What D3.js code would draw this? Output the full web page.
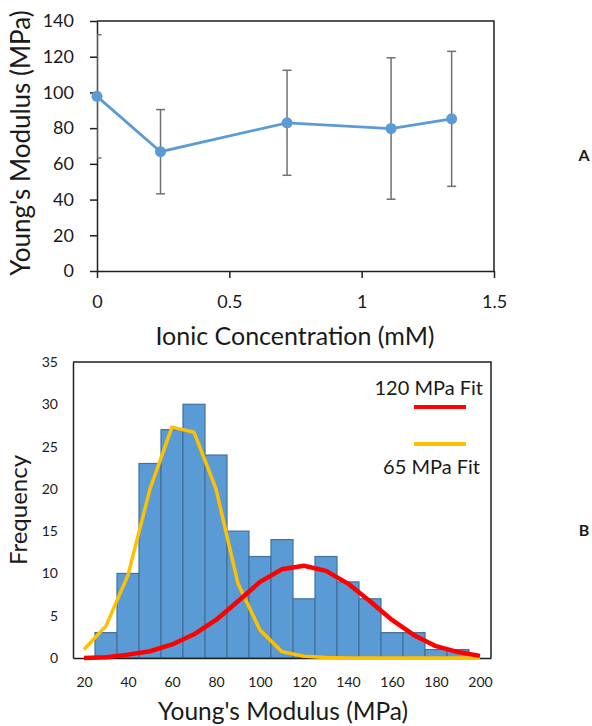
<!DOCTYPE html>
<html><head><meta charset="utf-8">
<script src="https://cdn.jsdelivr.net/npm/d3@7"></script>
<style>body{margin:0;background:#fff}svg{display:block}text{font-family:Lato,"Open Sans",sans-serif;fill:#1a1a1a}</style>
</head><body>
<script>
// ---- Panel A data ----
const concentration = [0, 0.24, 0.718, 1.111, 1.34];
const modulusMean = [97.8, 66.8, 83.0, 79.8, 85.2];
const modulusSD = [34.5, 23.6, 29.4, 39.6, 37.8];
const yTicksA = [0, 20, 40, 60, 80, 100, 120, 140];
const xTicksA = [0, 0.5, 1, 1.5];

// ---- Panel B data ----
const binCenters = [30, 40, 50, 60, 70, 80, 90, 100, 110, 120, 130, 140, 150, 160, 170, 180, 190];
const frequency = [3, 10, 23, 27, 30, 24, 15, 12, 14, 7, 12, 9, 7, 3, 3, 1, 1];
const fitX = [20, 30, 40, 50, 60, 70, 80, 90, 100, 110, 120, 130, 140, 150, 160, 170, 180, 190, 200];
const fit120 = [0.0, 0.1, 0.4, 0.8, 1.6, 2.8, 4.5, 6.7, 9.0, 10.5, 10.9, 10.3, 8.8, 6.7, 4.5, 2.7, 1.4, 0.7, 0.25];
const fit65 = [1.0, 3.8, 9.8, 20.0, 27.3, 26.7, 20.0, 8.8, 3.3, 0.75, 0.2, 0.05, 0, 0, 0, 0, 0, 0, 0];
const yTicksB = [0, 5, 10, 15, 20, 25, 30, 35];
const xTicksB = [20, 40, 60, 80, 100, 120, 140, 160, 180, 200];

const W = 592, H = 726;
const svg = d3.select("body").append("svg").attr("width", W).attr("height", H);
const axisColor = "#1f1f1f";

// ================= Panel A =================
const xA = d3.scaleLinear().domain([0, 1.5]).range([97, 494]);
const yA = d3.scaleLinear().domain([0, 140]).range([271, 21]);
const gA = svg.append("g");

svg.append("defs").append("clipPath").attr("id", "clipA")
  .append("rect").attr("x", xA(0)).attr("y", yA(140) - 1).attr("width", xA(1.5) - xA(0)).attr("height", yA(0) - yA(140) + 1);

gA.append("path").attr("d", `M${xA(0)},${yA(140)}H${xA(1.5)}V${yA(0)}`)
  .attr("fill", "none").attr("stroke", axisColor).attr("stroke-width", 1.5);

const yAxisA = gA.append("g").attr("transform", `translate(${xA(0)},0)`)
  .call(d3.axisLeft(yA).tickValues(yTicksA).tickSize(7).tickPadding(16).tickSizeOuter(0));
const xAxisA = gA.append("g").attr("transform", `translate(0,${yA(0)})`)
  .call(d3.axisBottom(xA).tickValues(xTicksA).tickFormat(d3.format("")).tickSize(7).tickPadding(17).tickSizeOuter(0));
[yAxisA, xAxisA].forEach(a => {
  a.selectAll("path,line").attr("stroke", axisColor).attr("stroke-width", 1.5);
  a.selectAll("text").attr("font-size", 18).attr("font-family", "Lato").attr("fill", "#1a1a1a");
});

const eb = gA.append("g").attr("clip-path", "url(#clipA)").attr("stroke", "#707070").attr("stroke-width", 1.5);
concentration.forEach((c, i) => {
  const x = xA(c), y1 = yA(modulusMean[i] + modulusSD[i]), y2 = yA(modulusMean[i] - modulusSD[i]);
  eb.append("line").attr("x1", x).attr("x2", x).attr("y1", y1).attr("y2", y2);
  eb.append("line").attr("x1", x - 4.5).attr("x2", x + 4.5).attr("y1", y1).attr("y2", y1);
  eb.append("line").attr("x1", x - 4.5).attr("x2", x + 4.5).attr("y1", y2).attr("y2", y2);
});

const lineA = d3.line().x((d, i) => xA(concentration[i])).y(d => yA(d));
gA.append("path").datum(modulusMean).attr("d", lineA)
  .attr("fill", "none").attr("stroke", "#5b9bd5").attr("stroke-width", 2.75);
gA.selectAll("circle.pt").data(modulusMean).join("circle")
  .attr("cx", (d, i) => xA(concentration[i])).attr("cy", d => yA(d)).attr("r", 5.5).attr("fill", "#5b9bd5");

gA.append("text").attr("transform", `translate(30,143) rotate(-90)`)
  .attr("text-anchor", "middle").attr("font-size", 26).text("Young's Modulus (MPa)");
gA.append("text").attr("x", 295).attr("y", 345).attr("text-anchor", "middle").attr("font-size", 25)
  .text("Ionic Concentration (mM)");
svg.append("text").attr("x", 584).attr("y", 161).attr("text-anchor", "middle").attr("font-size", 16)
  .attr("font-weight", "bold").attr("font-family", "Liberation Sans").text("A");

// ================= Panel B =================
const xB = d3.scaleLinear().domain([15, 205]).range([73, 491]);
const yB = d3.scaleLinear().domain([0, 35]).range([658, 362]);
const gB = svg.append("g");

gB.selectAll("rect.bar").data(frequency).join("rect")
  .attr("x", (d, i) => xB(binCenters[i] - 5)).attr("width", (d, i) => xB(binCenters[i] + 5) - xB(binCenters[i] - 5))
  .attr("y", d => yB(d)).attr("height", d => yB(0) - yB(d))
  .attr("fill", "#5b9bd5").attr("stroke", "#41719c").attr("stroke-width", 1.2);

gB.append("path").attr("d", `M${xB(15)},${yB(35)}H${xB(205)}V${yB(0)}`)
  .attr("fill", "none").attr("stroke", axisColor).attr("stroke-width", 1.5);

const yAxisB = gB.append("g").attr("transform", `translate(${xB(15)},0)`)
  .call(d3.axisLeft(yB).tickValues(yTicksB).tickSize(0).tickPadding(15).tickSizeOuter(0));
const xAxisB = gB.append("g").attr("transform", `translate(0,${yB(0)})`)
  .call(d3.axisBottom(xB).tickValues(xTicksB).tickSize(0).tickPadding(19).tickSizeOuter(0));
[yAxisB, xAxisB].forEach(a => {
  a.selectAll("path,line").attr("stroke", axisColor).attr("stroke-width", 1.5);
  a.selectAll("text").attr("font-size", 14).attr("font-family", "Lato").attr("fill", "#1a1a1a");
});

const lineB = d3.line().x((d, i) => xB(fitX[i])).y(d => yB(d));
gB.append("path").datum(fit65).attr("d", lineB).attr("fill", "none")
  .attr("stroke", "#ffc000").attr("stroke-width", 3.5).attr("stroke-linejoin", "round");
gB.append("path").datum(fit120).attr("d", lineB).attr("fill", "none")
  .attr("stroke", "#ff0000").attr("stroke-width", 4.5).attr("stroke-linejoin", "round");

gB.append("text").attr("x", 483).attr("y", 395).attr("text-anchor", "end").attr("font-size", 20).text("120 MPa Fit");
gB.append("line").attr("x1", 414).attr("x2", 466).attr("y1", 407).attr("y2", 407).attr("stroke", "#ff0000").attr("stroke-width", 4);
gB.append("line").attr("x1", 414).attr("x2", 466).attr("y1", 444).attr("y2", 444).attr("stroke", "#ffc000").attr("stroke-width", 4);
gB.append("text").attr("x", 480).attr("y", 474).attr("text-anchor", "end").attr("font-size", 20).text("65 MPa Fit");

gB.append("text").attr("transform", `translate(27,510) rotate(-90)`)
  .attr("text-anchor", "middle").attr("font-size", 24).text("Frequency");
gB.append("text").attr("x", 283).attr("y", 720).attr("text-anchor", "middle").attr("font-size", 24.5)
  .text("Young's Modulus (MPa)");
svg.append("text").attr("x", 584).attr("y", 536).attr("text-anchor", "middle").attr("font-size", 16)
  .attr("font-weight", "bold").attr("font-family", "Liberation Sans").text("B");
</script>
</body></html>
